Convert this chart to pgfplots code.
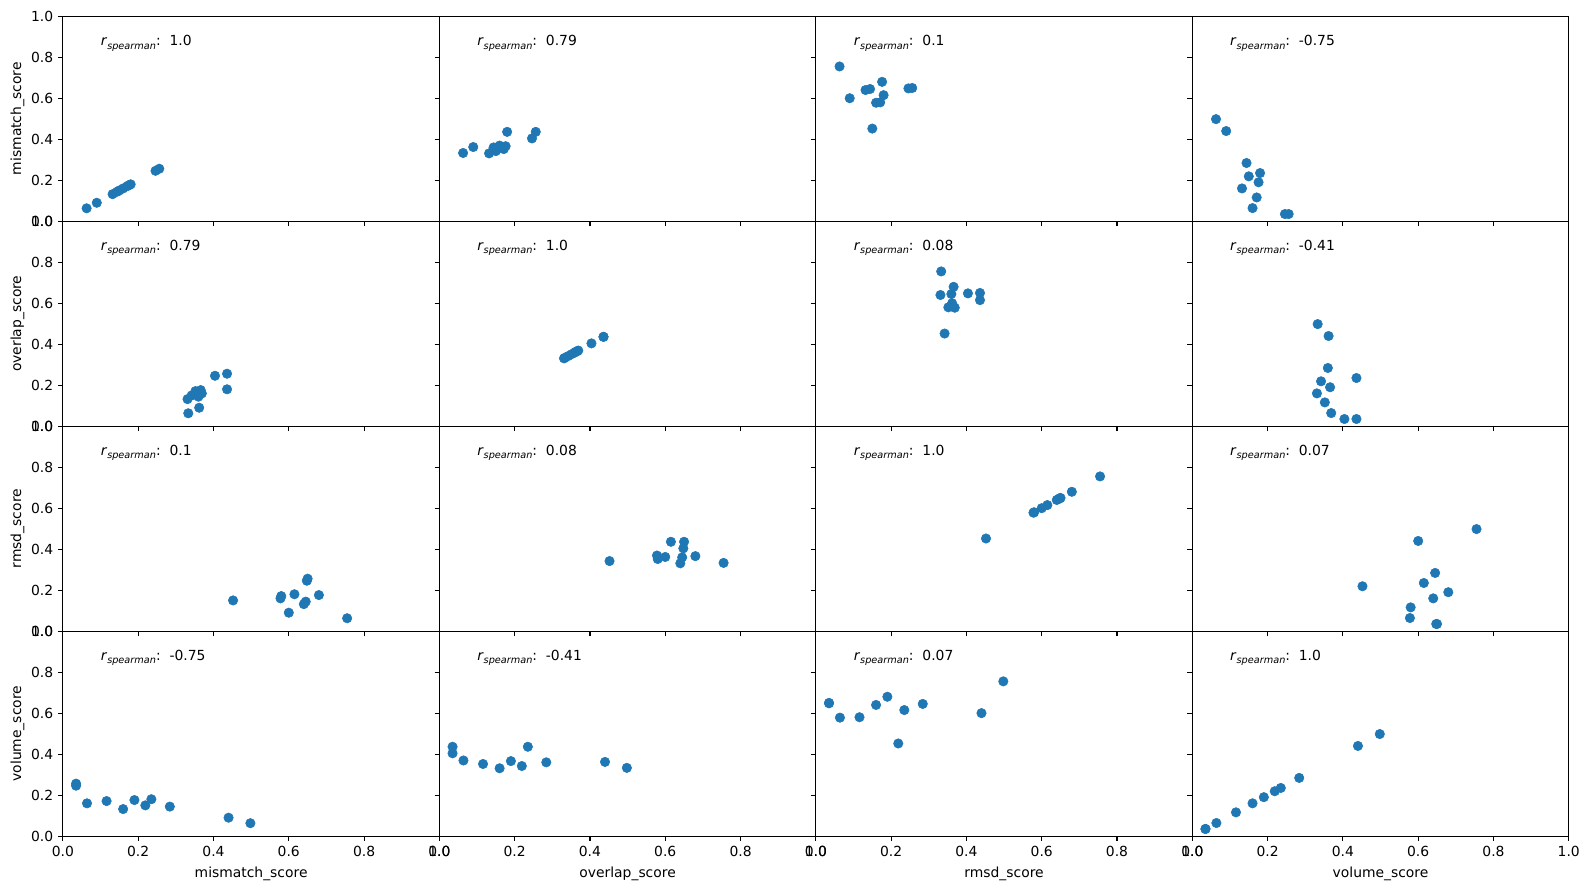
\documentclass[border=0pt]{standalone}
\usepackage{pgfplots}
\pgfplotsset{compat=1.18}
\usepackage{pgfplotstable}
\usepgfplotslibrary{groupplots}
\usepackage{fontspec}
\setmainfont{DejaVu Sans}
\definecolor{tabblue}{HTML}{1F77B4}

\pgfplotstableread{
A B C D
0.063 0.333 0.755 0.498
0.090 0.362 0.600 0.440
0.144 0.360 0.645 0.284
0.150 0.342 0.452 0.219
0.180 0.436 0.615 0.235
0.176 0.366 0.680 0.190
0.132 0.331 0.640 0.160
0.171 0.352 0.580 0.116
0.160 0.369 0.578 0.064
0.246 0.404 0.648 0.035
0.256 0.436 0.650 0.035
}\data

\newcommand{\rs}[1]{\node[anchor=base west, inner sep=0pt, font=\fontsize{10}{12}\selectfont] at (rel axis cs:0.1,0.855) {\textit{r}\raisebox{-0.4ex}{\fontsize{7}{8}\selectfont\textit{spearman}}:\ \ #1};}
\newcommand{\pt}[2]{\addplot[only marks, mark=*, mark size=3.4pt, color=tabblue, mark options={draw=tabblue, fill=tabblue}] table[x=#1, y=#2] {\data};}

\begin{document}
\begin{tikzpicture}
\begin{groupplot}[
  group style={group size=4 by 4, horizontal sep=0pt, vertical sep=0pt,
    xticklabels at=edge bottom, yticklabels at=edge left},
  scale only axis, width=271.1pt, height=147.6pt,
  xmin=0, xmax=1, ymin=0, ymax=1,
  xtick={0,0.2,0.4,0.6,0.8,1.0}, ytick={0,0.2,0.4,0.6,0.8,1.0},
  tick align=outside, tick pos=left,
  major tick length=3.5pt,
  axis line style={line width=0.8pt},
  every tick/.style={black, line width=0.8pt},
  /pgf/number format/assume math mode=true,
  /pgf/number format/fixed, /pgf/number format/fixed zerofill, /pgf/number format/precision=1,
  ticklabel style={font=\fontsize{10}{12}\selectfont},
  label style={font=\fontsize{10}{12}\selectfont},
  xlabel style={yshift=-1pt},
  ylabel style={yshift=-2pt},
]
% row 1 (x = mismatch)
\nextgroupplot[ylabel={mismatch\_score}]
\coordinate (tl) at (rel axis cs:0,1);
\pt{A}{A}\rs{1.0}
\nextgroupplot \pt{A}{B}\rs{0.79}
\nextgroupplot \pt{A}{C}\rs{0.1}
\nextgroupplot \pt{A}{D}\rs{-0.75}
% row 2 (x = overlap)
\nextgroupplot[ylabel={overlap\_score}] \pt{B}{A}\rs{0.79}
\nextgroupplot \pt{B}{B}\rs{1.0}
\nextgroupplot \pt{B}{C}\rs{0.08}
\nextgroupplot \pt{B}{D}\rs{-0.41}
% row 3 (x = rmsd)
\nextgroupplot[ylabel={rmsd\_score}] \pt{C}{A}\rs{0.1}
\nextgroupplot \pt{C}{B}\rs{0.08}
\nextgroupplot \pt{C}{C}\rs{1.0}
\nextgroupplot \pt{C}{D}\rs{0.07}
% row 4 (x = volume)
\nextgroupplot[ylabel={volume\_score}, xlabel={mismatch\_score}] \pt{D}{A}\rs{-0.75}
\nextgroupplot[xlabel={overlap\_score}] \pt{D}{B}\rs{-0.41}
\nextgroupplot[xlabel={rmsd\_score}] \pt{D}{C}\rs{0.07}
\nextgroupplot[xlabel={volume\_score}] \pt{D}{D}\rs{1.0}
\coordinate (br) at (rel axis cs:1,0);
\end{groupplot}
\pgfresetboundingbox
\path[use as bounding box] ([xshift=-45.3pt,yshift=11.7pt]tl) rectangle ([xshift=15.3pt,yshift=-38.7pt]br);
\end{tikzpicture}
\end{document}
